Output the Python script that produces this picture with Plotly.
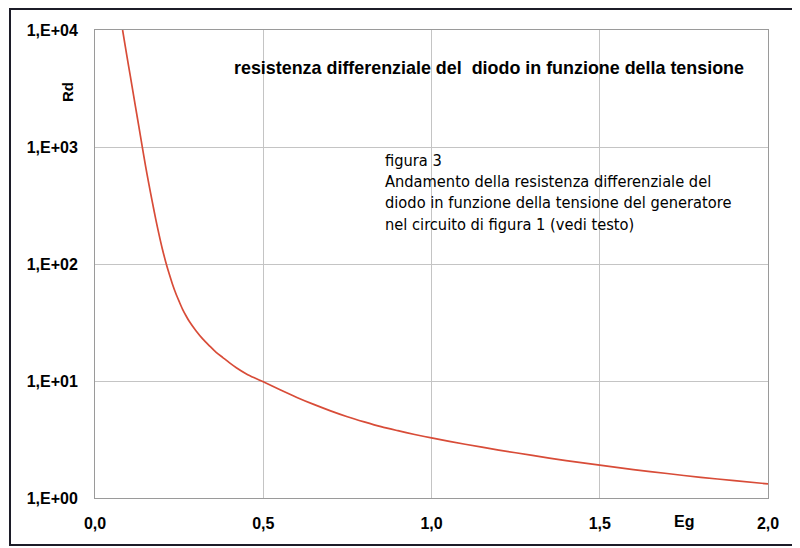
import plotly.graph_objects as go

# Data (Eg in V, Rd in ohm)
eg = [0.082, 0.09, 0.10, 0.11, 0.12, 0.13, 0.14, 0.15, 0.16, 0.17, 0.18, 0.19,
      0.20, 0.21, 0.22, 0.23, 0.24, 0.25, 0.26, 0.27, 0.28, 0.30, 0.32, 0.34,
      0.36, 0.38, 0.40, 0.42, 0.45, 0.475, 0.50, 0.55, 0.60, 0.65, 0.70, 0.75,
      0.80, 0.85, 0.90, 0.95, 1.00, 1.10, 1.20, 1.30, 1.40, 1.50, 1.60, 1.70,
      1.80, 1.90, 2.00]
rd = [10000, 7244, 4898, 3311, 2239, 1514, 1023, 692, 484, 343, 245.5, 180,
      135, 104.7, 83.2, 67.6, 56.2, 47.9, 41.2, 36.3, 32.4, 26.9, 22.9, 20.0,
      17.6, 15.85, 14.3, 13.0, 11.5, 10.6, 9.84, 8.41, 7.24, 6.31, 5.56, 4.95,
      4.47, 4.07, 3.76, 3.49, 3.26, 2.88, 2.57, 2.31, 2.09, 1.91, 1.75, 1.62,
      1.50, 1.41, 1.32]

x_tickvals = [0.0, 0.5, 1.0, 1.5, 2.0]
x_ticktext = ["0,0", "0,5", "1,0", "1,5", "2,0"]
y_tickvals = [1, 10, 100, 1000, 10000]
y_ticktext = ["1,E+00", "1,E+01", "1,E+02", "1,E+03", "1,E+04"]

title_text = "resistenza differenziale del\u00a0 diodo in funzione della tensione"
caption_lines = [
    "figura 3",
    "Andamento della resistenza differenziale del",
    "diodo in funzione della tensione del generatore",
    "nel circuito di figura 1 (vedi testo)",
]

bold = "Liberation Sans, Arial, sans-serif"
narrow = "Liberation Sans Narrow, DejaVu Sans Condensed, sans-serif"

fig = go.Figure()
fig.add_trace(go.Scatter(
    x=eg, y=rd, mode="lines",
    line=dict(color="#d84c38", width=1.7, shape="spline", smoothing=0.8),
    hoverinfo="x+y", showlegend=False,
))

OFF = 8  # page offset of the figure inside the browser window
W, H = 800 - OFF, 548 - OFF
# plot area in window pixels: left 95, right 768, top 30, bottom 498
L, R, T, B = 95 - OFF, W - (768 - OFF), 30 - OFF, H - (498 - OFF)
pw, ph = W - L - R, H - T - B

def px(x):
    return (x - OFF - L) / pw

def py(y):
    return (H - B - (y - OFF)) / ph

tick_font = dict(family=bold, size=16, color="black", weight="bold")

fig.update_layout(
    width=W, height=H,
    margin=dict(l=L, r=R, t=T, b=B),
    paper_bgcolor="white", plot_bgcolor="white",
    xaxis=dict(
        range=[0, 2], tickvals=x_tickvals, ticktext=x_ticktext,
        showgrid=True, gridcolor="#c4c4c4", gridwidth=1,
        showline=True, linecolor="#9a9a9a", linewidth=1, mirror=True,
        ticks="", ticklabelstandoff=11, zeroline=False, tickfont=tick_font,
    ),
    yaxis=dict(
        type="log", range=[0, 4], tickvals=y_tickvals, ticktext=y_ticktext,
        showgrid=True, gridcolor="#c4c4c4", gridwidth=1,
        showline=True, linecolor="#9a9a9a", linewidth=1, mirror=True,
        ticks="", ticklabelstandoff=13, zeroline=False, tickfont=tick_font,
    ),
    shapes=[dict(
        type="rect", xref="paper", yref="paper",
        x0=px(10), x1=px(796), y0=py(545), y1=py(9),
        line=dict(color="#1c1c28", width=2), layer="below",
    )],
    annotations=[
        dict(text=title_text, xref="paper", yref="paper", x=px(232), y=py(68),
             xanchor="left", yanchor="middle", showarrow=False,
             font=dict(family=bold, size=17.9, color="black", weight="bold")),
        dict(text="<br>".join(caption_lines), xref="paper", yref="paper",
             x=px(383), y=py(149), xanchor="left", yanchor="top", align="left",
             showarrow=False,
             font=dict(family=narrow, size=16.3, color="black")),
        dict(text="Rd", xref="paper", yref="paper", x=px(68), y=py(92),
             xanchor="center", yanchor="middle", textangle=-90, showarrow=False,
             font=dict(family=bold, size=15, color="black", weight="bold")),
        dict(text="Eg", xref="paper", yref="paper", x=px(684), y=py(521),
             xanchor="center", yanchor="middle", showarrow=False,
             font=dict(family=bold, size=16, color="black", weight="bold")),
    ],
)

fig.write_html("out.html")
